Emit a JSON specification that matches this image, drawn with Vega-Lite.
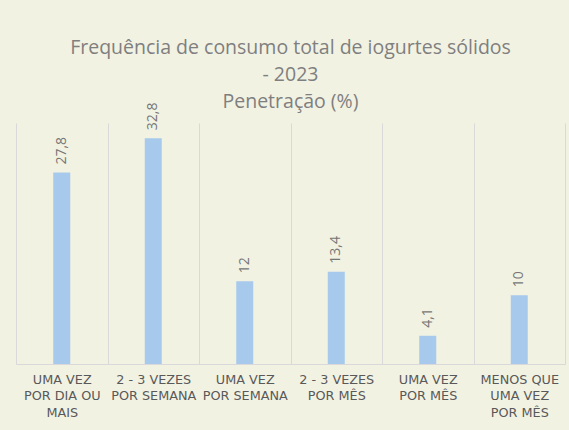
{
  "$schema": "https://vega.github.io/schema/vega-lite/v6.json",
  "width": 549,
  "height": 241,
  "autosize": "none",
  "padding": {"left": 16, "top": 123, "right": 4, "bottom": 66},
  "background": "#F2F2E3",
  "title": {
    "text": ["Frequência de consumo total de iogurtes sólidos", "- 2023", "Penetração (%)"],
    "font": "Open Sans",
    "fontSize": 19.5,
    "fontWeight": "normal",
    "color": "#7F7F7F",
    "lineHeight": 27,
    "anchor": "middle",
    "offset": -10
  },
  "data": {
    "values": [
      {"categoria": "UMA VEZ POR DIA OU MAIS", "penetracao": 27.8},
      {"categoria": "2 - 3 VEZES POR SEMANA", "penetracao": 32.8},
      {"categoria": "UMA VEZ POR SEMANA", "penetracao": 12},
      {"categoria": "2 - 3 VEZES POR MÊS", "penetracao": 13.4},
      {"categoria": "UMA VEZ POR MÊS", "penetracao": 4.1},
      {"categoria": "MENOS QUE UMA VEZ POR MÊS", "penetracao": 10}
    ]
  },
  "encoding": {
    "x": {
      "field": "categoria",
      "type": "nominal",
      "sort": null,
      "title": null,
      "scale": {"paddingInner": 0, "paddingOuter": 0},
      "axis": {
        "grid": true,
        "gridColor": "#D9D9D9",
        "tickBand": "extent",
        "ticks": false,
        "domainColor": "#D9D9D9",
        "labelAngle": 0,
        "labelFont": "DejaVu Sans",
        "labelFontSize": 12.8,
        "labelColor": "#595959",
        "labelLineHeight": 16.5,
        "labelPadding": 9,
        "labelOverlap": false,
        "labelLimit": 0,
        "labelExpr": "{'UMA VEZ POR DIA OU MAIS': ['UMA VEZ', 'POR DIA OU', 'MAIS'], '2 - 3 VEZES POR SEMANA': ['2 - 3 VEZES', 'POR SEMANA'], 'UMA VEZ POR SEMANA': ['UMA VEZ', 'POR SEMANA'], '2 - 3 VEZES POR MÊS': ['2 - 3 VEZES', 'POR MÊS'], 'UMA VEZ POR MÊS': ['UMA VEZ', 'POR MÊS'], 'MENOS QUE UMA VEZ POR MÊS': ['MENOS QUE', 'UMA VEZ', 'POR MÊS']}[datum.label]"
      }
    },
    "y": {
      "field": "penetracao",
      "type": "quantitative",
      "scale": {"domain": [0, 35]},
      "axis": null
    }
  },
  "layer": [
    {
      "mark": {"type": "bar", "width": 17, "color": "#A6C9EC"}
    },
    {
      "mark": {
        "type": "text",
        "angle": 270,
        "align": "left",
        "baseline": "middle",
        "dx": 8,
        "font": "Open Sans",
        "fontSize": 14,
        "color": "#767676"
      },
      "encoding": {
        "text": {"field": "penetracao", "type": "quantitative", "format": ".1~f"}
      }
    }
  ],
  "config": {
    "view": {"stroke": null},
    "locale": {
      "number": {"decimal": ",", "thousands": ".", "grouping": [3], "currency": ["", " €"]}
    }
  }
}
